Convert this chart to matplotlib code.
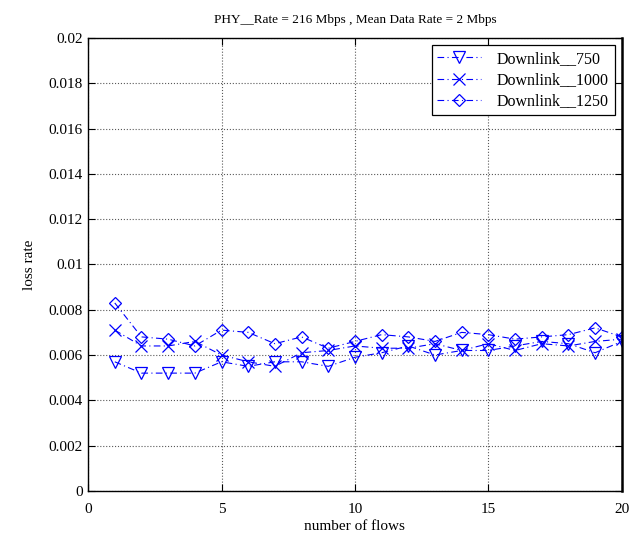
import matplotlib
matplotlib.use("Agg")
import matplotlib.pyplot as plt
import numpy as np

flows = np.arange(1, 21)

downlink_750 = [0.0057, 0.0052, 0.0052, 0.0052, 0.0057, 0.0055, 0.0057, 0.0057, 0.0055, 0.0059,
                0.0061, 0.0064, 0.0060, 0.0062, 0.0062, 0.0064, 0.0066, 0.0065, 0.0061, 0.0066]
downlink_1000 = [0.0071, 0.0064, 0.0064, 0.0066, 0.0060, 0.0057, 0.0055, 0.0061, 0.0062, 0.0064,
                 0.0063, 0.0063, 0.0065, 0.0062, 0.0065, 0.0062, 0.0065, 0.0064, 0.0066, 0.0067]
downlink_1250 = [0.0083, 0.0068, 0.0067, 0.0064, 0.0071, 0.0070, 0.0065, 0.0068, 0.0063, 0.0066,
                 0.0069, 0.0068, 0.0066, 0.0070, 0.0069, 0.0067, 0.0068, 0.0069, 0.0072, 0.0068]

series = [
    ("Downlink__750", downlink_750, "v"),
    ("Downlink__1000", downlink_1000, "x"),
    ("Downlink__1250", downlink_1250, "D"),
]

x_ticks = [0, 5, 10, 15, 20]
y_ticks = [0, 0.002, 0.004, 0.006, 0.008, 0.01, 0.012, 0.014, 0.016, 0.018, 0.02]
y_tick_labels = ["0", "0.002", "0.004", "0.006", "0.008", "0.01", "0.012",
                 "0.014", "0.016", "0.018", "0.02"]

plt.rcParams["font.family"] = ["Liberation Serif", "DejaVu Serif"]
plt.rcParams["font.size"] = 11

fig = plt.figure(figsize=(6.43, 5.37), dpi=100)
ax = fig.add_axes([0.137, 0.086, 0.830, 0.843])

for label, values, marker in series:
    ms = 6.5 if marker == "D" else 8
    ax.plot(flows, values, linestyle=(0, (6, 3, 1, 3)), color="blue", linewidth=0.8,
            marker=marker, markersize=ms, markerfacecolor="none",
            markeredgecolor="blue", markeredgewidth=0.9, label=label)

ax.set_xlim(0, 20)
ax.set_ylim(0, 0.02)
ax.set_xticks(x_ticks)
ax.set_yticks(y_ticks)
ax.set_yticklabels(y_tick_labels)
ax.grid(True, linestyle=":", color="0.35", linewidth=0.8)
ax.tick_params(direction="in", top=True, right=True, length=5, width=0.8)
ax.tick_params(axis="x", pad=9)
ax.tick_params(axis="y", pad=4)
for spine in ax.spines.values():
    spine.set_linewidth(1.0)
ax.spines["right"].set_linewidth(1.8)

ax.set_xlabel("number of flows", labelpad=3)
ax.set_ylabel("loss rate", labelpad=9)
ax.set_title("PHY__Rate = 216 Mbps , Mean Data Rate = 2 Mbps", fontsize=9.5, pad=11)

leg = ax.legend(loc="upper right", fancybox=False, edgecolor="black",
                framealpha=1, borderaxespad=0.45, handlelength=2.75,
                handletextpad=1.0, labelspacing=0.33, borderpad=0.35,
                fontsize=11.5)
leg.get_frame().set_linewidth(0.9)

fig.savefig("out.png", dpi=100)
